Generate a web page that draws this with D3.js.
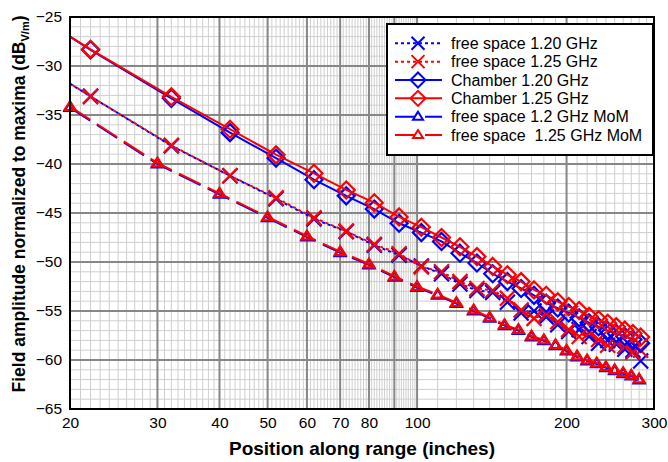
<!DOCTYPE html>
<html>
<head>
<meta charset="utf-8">
<script src="https://d3js.org/d3.v7.min.js"></script>
<style>
  body { margin: 0; background: #fff; }
  text { font-family: Arial, "Liberation Sans", sans-serif; fill: #000; }
</style>
</head>
<body>
<div id="chart"></div>
<script>
// positions (inches) where the measured points carry a marker
const measPos = [22, 32, 42, 52, 62, 72, 82, 92, 102, 112, 122, 132, 142, 152, 162,
                 172, 182, 192, 202, 212, 222, 232, 242, 252, 262, 272, 282];
const momPos = [20, 30, 40, 50, 60, 70, 80, 90, 100, 110, 120, 130, 140, 150, 160,
                170, 180, 190, 200, 210, 220, 230, 240, 250, 260, 270, 280];

// value of the measured curves at the left edge (20 in)
const freeStart = -31.8;
const chamberStart = -27.0;

const free120 = [-33.1, -38.15, -41.2, -43.55, -45.6, -46.9, -48.3, -49.3, -50.4, -51.2,
                 -52.25, -52.9, -53.1, -54.1, -55.2, -55.0, -55.6, -56.4, -57.1, -56.9,
                 -57.6, -58.3, -58.0, -58.4, -58.9, -59.0, -60.1];
const free125 = [-33.1, -38.1, -41.2, -43.45, -45.5, -46.85, -48.2, -49.15, -50.5, -51.0,
                 -52.0, -52.7, -52.9, -53.7, -54.9, -55.75, -55.3, -56.1, -56.9, -57.6,
                 -57.2, -57.9, -58.5, -58.2, -58.6, -59.2, -59.0];
const chamber120 = [-28.35, -33.3, -36.8, -39.4, -41.6, -43.25, -44.6, -46.05, -47.0, -47.9,
                    -49.1, -50.1, -51.2, -52.0, -52.7, -53.4, -54.2, -54.7, -55.2, -55.7,
                    -56.2, -56.6, -57.0, -57.3, -57.6, -57.9, -58.3];
const chamber125 = [-28.3, -33.15, -36.45, -39.05, -40.95, -42.65, -43.95, -45.4, -46.45, -47.5,
                    -48.45, -49.45, -50.45, -51.3, -52.0, -52.85, -53.4, -54.05, -54.55, -54.95,
                    -55.55, -55.9, -56.25, -56.6, -56.95, -57.3, -57.65];
const mom120 = [-34.25, -40.0, -43.1, -45.5, -47.45, -49.05, -50.3, -51.55, -52.6, -53.4,
                -54.25, -55.0, -55.75, -56.5, -57.0, -57.65, -58.05, -58.55, -59.1, -59.7,
                -60.1, -60.4, -60.8, -61.1, -61.4, -61.65, -62.05];
const mom125 = [-34.15, -39.9, -43.0, -45.4, -47.35, -48.95, -50.2, -51.45, -52.5, -53.3,
                -54.15, -54.9, -55.65, -56.4, -56.9, -57.55, -57.95, -58.45, -59.0, -59.6,
                -60.0, -60.3, -60.7, -61.0, -61.3, -61.55, -61.95];

const xTickLabels = [20, 30, 40, 50, 60, 70, 80, 100, 200, 300];
const yTickLabels = [-65, -60, -55, -50, -45, -40, -35, -30, -25];

const seriesNames = ["free space 1.20 GHz", "free space 1.25 GHz", "Chamber 1.20 GHz",
                     "Chamber 1.25 GHz", "free space 1.2 GHz MoM", "free space  1.25 GHz MoM"];

let margin = {top: 17, right: 14, bottom: 53, left: 70},
    W = 668, H = 462,
    width = W - margin.left - margin.right,
    height = H - margin.top - margin.bottom;

let x = d3.scaleLog().domain([20, 300]).range([0, width]);
let y = d3.scaleLinear().domain([-65, -25]).range([height, 0]);

let svg = d3.select("#chart").append("svg")
    .attr("width", W)
    .attr("height", H)
    .style("display", "block");

svg.append("rect").attr("width", W).attr("height", H).attr("fill", "#fff");

let g = svg.append("g")
    .attr("transform", "translate(" + margin.left + "," + margin.top + ")");

// grid: minor lines first, then major
let xMinor = d3.range(21, 100, 1).concat(d3.range(110, 300, 10));
let xMajor = [20, 30, 40, 50, 60, 70, 80, 90, 100, 200, 300];
let yMinor = d3.range(-64, -25, 1).filter(v => v % 5 !== 0);
let yMajor = d3.range(-65, -24, 5);

let grid = g.append("g").attr("class", "grid");
grid.selectAll(".xminor").data(xMinor).enter().append("line")
    .attr("x1", d => x(d)).attr("x2", d => x(d))
    .attr("y1", 0).attr("y2", height)
    .attr("stroke", "#cfcfcf").attr("stroke-width", 1);
grid.selectAll(".yminor").data(yMinor).enter().append("line")
    .attr("x1", 0).attr("x2", width)
    .attr("y1", d => y(d)).attr("y2", d => y(d))
    .attr("stroke", "#cfcfcf").attr("stroke-width", 1);
grid.selectAll(".xmajor").data(xMajor).enter().append("line")
    .attr("x1", d => x(d)).attr("x2", d => x(d))
    .attr("y1", 0).attr("y2", height)
    .attr("stroke", "#878787").attr("stroke-width", 2);
grid.selectAll(".ymajor").data(yMajor).enter().append("line")
    .attr("x1", 0).attr("x2", width)
    .attr("y1", d => y(d)).attr("y2", d => y(d))
    .attr("stroke", "#878787").attr("stroke-width", 2);

// axes (labels only, the frame is drawn below)
let xAxis = d3.axisBottom(x).tickValues(xTickLabels).tickFormat(d3.format("d")).tickSize(0).tickPadding(8);
let yAxis = d3.axisLeft(y).tickValues(yTickLabels).tickFormat(d3.format("d")).tickSize(0).tickPadding(8);

let gx = g.append("g").attr("transform", "translate(0," + height + ")").call(xAxis);
gx.select(".domain").remove();
gx.selectAll("text").style("font-size", "15.5px").attr("font-family", null).attr("fill", "#000");

let gy = g.append("g").call(yAxis);
gy.select(".domain").remove();
gy.selectAll("text").style("font-size", "15.5px").attr("font-family", null).attr("fill", "#000");

// series
let line = d3.line().x(d => x(d[0])).y(d => y(d[1]));

function pts(pos, vals, start) {
  let p = pos.map((v, i) => [v, vals[i]]);
  if (start !== undefined) p.unshift([20, start]);
  return p;
}

let series = [
  {name: seriesNames[0], color: "#0000ff", dash: "3,3", off: 0, marker: "x", pos: measPos, vals: free120, start: freeStart},
  {name: seriesNames[1], color: "#ff0000", dash: "3,3", off: 3, marker: "x", pos: measPos, vals: free125, start: freeStart},
  {name: seriesNames[2], color: "#0000ff", dash: null, off: 0, marker: "diamond", pos: measPos, vals: chamber120, start: chamberStart},
  {name: seriesNames[3], color: "#ff0000", dash: null, off: 0, marker: "diamond", pos: measPos, vals: chamber125, start: chamberStart},
  {name: seriesNames[4], color: "#0000ff", dash: "24,8", off: 0, marker: "triangle", pos: momPos, vals: mom120},
  {name: seriesNames[5], color: "#ff0000", dash: "24,8", off: 0, marker: "triangle", pos: momPos, vals: mom125}
];

function markerPath(type, r) {
  if (type === "x") return "M" + (-r) + "," + (-r) + "L" + r + "," + r + "M" + (-r) + "," + r + "L" + r + "," + (-r);
  if (type === "diamond") return "M0," + (-r) + "L" + r + ",0L0," + r + "L" + (-r) + ",0Z";
  // triangle
  let h = r * 1.6;
  return "M0," + (-h * 0.62) + "L" + r + "," + (h * 0.38) + "L" + (-r) + "," + (h * 0.38) + "Z";
}
let markerSize = {x: 7.5, diamond: 8.5, triangle: 5.5};

// draw order: blue under red within each pair
let order = [4, 5, 0, 1, 2, 3];
let plot = g.append("g");
order.forEach(function(k) {
  let s = series[k];
  let p = pts(s.pos, s.vals, s.start);
  plot.append("path")
      .datum(p)
      .attr("d", line)
      .attr("fill", "none")
      .attr("stroke", s.color)
      .attr("stroke-width", 2)
      .attr("stroke-dasharray", s.dash)
      .attr("stroke-dashoffset", s.off);
  plot.selectAll(".m" + k)
      .data(s.pos.map((v, i) => [v, s.vals[i]]))
      .enter().append("path")
      .attr("class", "m" + k)
      .attr("transform", d => "translate(" + x(d[0]) + "," + y(d[1]) + ")")
      .attr("d", markerPath(s.marker, markerSize[s.marker]))
      .attr("fill", "none")
      .attr("stroke", s.color)
      .attr("stroke-width", 2.2);
});

// frame
g.append("rect")
    .attr("width", width).attr("height", height)
    .attr("fill", "none").attr("stroke", "#000").attr("stroke-width", 2);

// legend
let lg = svg.append("g").attr("transform", "translate(387,24)");
lg.append("rect")
    .attr("width", 266).attr("height", 131)
    .attr("fill", "#fff").attr("stroke", "#000").attr("stroke-width", 2);

series.forEach(function(s, i) {
  let ry = 19.3 + i * 18.35;
  lg.append("line")
      .attr("x1", 8).attr("x2", 55)
      .attr("y1", ry).attr("y2", ry)
      .attr("stroke", s.color).attr("stroke-width", 2)
      .attr("stroke-dasharray", s.marker === "triangle" ? "24,6" : s.dash);
  lg.append("path")
      .attr("transform", "translate(31," + ry + ")")
      .attr("d", markerPath(s.marker, s.marker === "triangle" ? 5 : markerSize[s.marker] - 1))
      .attr("fill", s.marker === "triangle" ? "#fff" : "none")
      .attr("stroke", s.color).attr("stroke-width", 2);
  lg.append("text")
      .attr("x", 64).attr("y", ry + 5.5)
      .style("font-size", "16px")
      .style("white-space", "pre")
      .text(s.name);
});

// axis titles
svg.append("text")
    .attr("x", margin.left + width / 2)
    .attr("y", 455)
    .attr("text-anchor", "middle")
    .style("font-size", "19px")
    .style("font-weight", "bold")
    .text("Position along range (inches)");

let yt = svg.append("text")
    .attr("transform", "translate(25,204) rotate(-90)")
    .attr("text-anchor", "middle")
    .style("font-size", "17.5px")
    .style("font-weight", "bold");
yt.append("tspan").text("Field amplitude normalized to maxima (dB");
yt.append("tspan").attr("dy", 4).style("font-size", "11px").text("V/m");
yt.append("tspan").attr("dy", -4).text(")");
</script>
</body>
</html>
